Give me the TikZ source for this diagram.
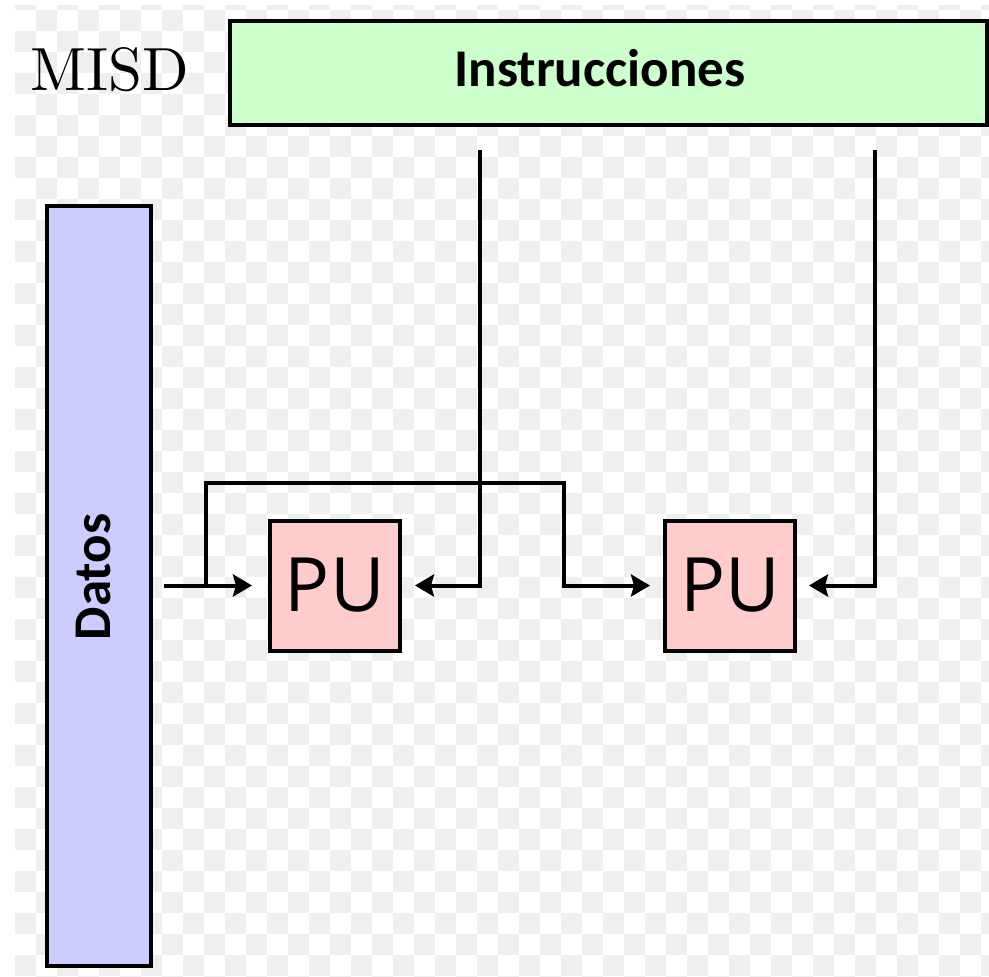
\documentclass[tikz,border=0pt]{standalone}
\usepackage{fontspec}
\usetikzlibrary{arrows.meta}
\newfontfamily\carlito{Carlito}
\newfontfamily\opensans{Open Sans}
\newfontfamily\lmten{lmroman10-regular}[Extension=.otf]
\definecolor{checker}{RGB}{239,239,239}
\definecolor{instrfill}{RGB}{204,255,204}
\definecolor{datafill}{RGB}{204,204,255}
\definecolor{pufill}{RGB}{255,204,204}
\tikzset{
  boxstyle/.style={draw=black, line width=4pt, inner sep=0pt, outer sep=0pt},
  conn/.style={draw=black, line width=4pt, -{Stealth[length=19pt,width=22pt,inset=3pt]}},
  putext/.style={font=\opensans\fontsize{75}{75}\selectfont},
  boldlabel/.style={font=\carlito\bfseries\fontsize{53}{53}\selectfont}
}
\begin{document}
\begin{tikzpicture}[x=1pt,y=-1pt]
\useasboundingbox (0,0) rectangle (989,977);
\fill[white] (0,0) rectangle (989,977);
% transparent-background checkerboard
\begin{scope}
\clip (15,5) rectangle (989,977);
\foreach \r in {0,2,...,46} {
  \foreach \c in {1,3,...,45} {
    \fill[checker] ({15+21*\c},{10+21*\r}) rectangle ++(21,21);
  }
}
\foreach \r in {-1,1,...,45} {
  \foreach \c in {0,2,...,46} {
    \fill[checker] ({15+21*\c},{10+21*\r}) rectangle ++(21,21);
  }
}
\end{scope}

\node[font=\lmten\fontsize{61}{61}\selectfont, inner sep=0pt] (misd) at (110,70) {MISD};

\node[boxstyle, fill=instrfill, minimum width=757pt, minimum height=104.5pt] (instr) at (608.5,72.75) {};
\node[boldlabel, inner sep=0pt] (instrlabel) at (600,68) {Instrucciones};

\node[boxstyle, fill=datafill, minimum width=104pt, minimum height=760pt] (datos) at (99,585.5) {};
\node[boldlabel, rotate=90, inner sep=0pt] (datoslabel) at (94,577) {Datos};

\node[boxstyle, fill=pufill, minimum width=130.5pt, minimum height=130pt, putext] (pu1) at (334.75,585.5) {PU};
\node[boxstyle, fill=pufill, minimum width=130pt, minimum height=130pt, putext] (pu2) at (730,585.5) {PU};

\coordinate (d0) at (164,585.5);
\coordinate (b0) at (206,585.5);
\coordinate (b1) at (563.5,482.5);
\coordinate (i1) at (480,150);
\coordinate (i2) at (874.5,150);

\draw[conn] (d0) -- ([xshift=-17.5pt]pu1.west);
\draw[conn] (b0) |- (b1) |- ([xshift=-15pt]pu2.west);
\draw[conn] (i1) |- ([xshift=15pt]pu1.east);
\draw[conn] (i2) |- ([xshift=14pt]pu2.east);
\end{tikzpicture}
\end{document}
